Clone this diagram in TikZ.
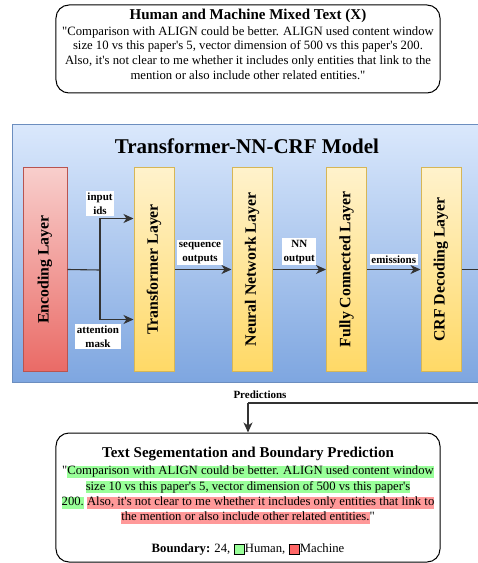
\documentclass[tikz,border=0pt]{standalone}
\usepackage{fontspec}
\setmainfont{Liberation Serif}
\usepackage{xcolor}
\usetikzlibrary{arrows.meta,calc}

\definecolor{modeltop}{HTML}{DAE8FC}
\definecolor{modelbottom}{HTML}{7EA6E0}
\definecolor{modelline}{HTML}{6C8EBF}
\definecolor{layertop}{HTML}{FFF2CC}
\definecolor{layerbottom}{HTML}{FFD966}
\definecolor{layerline}{HTML}{D6B656}
\definecolor{enctop}{HTML}{F8CECC}
\definecolor{encbottom}{HTML}{EA6B66}
\definecolor{encline}{HTML}{B85450}
\definecolor{humangreen}{HTML}{99FF99}
\definecolor{machinered}{HTML}{FF9999}
\definecolor{legendred}{HTML}{FF6666}
\definecolor{wireline}{HTML}{333333}

\newcommand{\bodyfont}{\fontsize{12.7bp}{14.6bp}\selectfont}
\newcommand{\headfont}{\fontsize{15bp}{17bp}\selectfont\bfseries}
\newcommand{\aq}{\textquotesingle}
\newcommand{\dq}{\textquotedbl}
\newcommand{\hlhuman}[1]{{\setlength{\fboxsep}{0pt}\colorbox{humangreen}{\rule[-3bp]{0pt}{11bp}#1}}}
\newcommand{\hlmachine}[1]{{\setlength{\fboxsep}{0pt}\colorbox{machinered}{\rule[-3bp]{0pt}{11bp}#1}}}
\newcommand{\legendsq}[1]{{\setlength{\fboxsep}{0pt}\setlength{\fboxrule}{0.9bp}\raisebox{-1.8bp}{\fcolorbox{black}{#1}{\rule{0pt}{9.5bp}\hspace{9.5bp}}}}}

\begin{document}
\begin{tikzpicture}[x=1bp,y=-1bp,
    textbox/.style={draw=black, line width=1bp, rounded corners=13bp, minimum width=384bp, align=center, inner sep=0pt, font=\bodyfont},
    model/.style={draw=modelline, line width=1bp, top color=modeltop, bottom color=modelbottom, minimum width=477bp, minimum height=257bp, inner sep=0pt},
    layer/.style={draw=layerline, line width=1bp, top color=layertop, bottom color=layerbottom, minimum width=40bp, minimum height=203bp, inner sep=0pt, font=\fontsize{15.8bp}{18bp}\selectfont\bfseries},
    enclayer/.style={layer, draw=encline, top color=enctop, bottom color=encbottom, minimum width=44bp},
    wire/.style={draw=wireline, line width=1.1bp},
    tip/.style={-{Stealth[length=10bp,width=9bp,inset=3bp]}},
    lbl/.style={fill=white, inner sep=1.5bp, align=center, font=\fontsize{11bp}{14bp}\selectfont\bfseries}
  ]
    \clip (0,0) rectangle (478,563);

    % Input text box
    \node[textbox, minimum height=88bp] (mixed) at (248,49) {{\headfont Human and Machine Mixed Text (X)}\\[1.5bp]
      \dq Comparison with ALIGN could be better. ALIGN used content window\\
      size 10 vs this paper\aq s 5, vector dimension of 500 vs this paper\aq s 200.\\
      Also, it\aq s not clear to me whether it includes only entities that link to the\\
      mention or also include other related entities.\dq\rule[-10bp]{0pt}{0pt}};

    % Model container
    \node[model] (model) at (251.5,253.5) {};
    \node[font=\fontsize{21bp}{24bp}\selectfont\bfseries] (title) at (247,146) {Transformer-NN-CRF Model};

    % Layers
    \node[enclayer] (enc) at (45,269.5) {\rotatebox{90}{Encoding Layer}};
    \node[layer] (trans) at (154,269.5) {\rotatebox{90}{Transformer Layer}};
    \node[layer] (nn) at (252,269.5) {\rotatebox{90}{Neural Network Layer}};
    \node[layer] (fc) at (346.5,269.5) {\rotatebox{90}{Fully Connected Layer}};
    \node[layer] (crf) at (441,269.5) {\rotatebox{90}{CRF Decoding Layer}};

    % Encoding to transformer
    \coordinate (split) at (100,270);
    \draw[wire] (enc.east) -- (split);
    \draw[wire,tip] (split) |- node[lbl, pos=0.5, above=2bp] {input\\ids} ($(trans.west)+(0,-51)$);
    \draw[wire,tip] (split) |- node[lbl, pos=0.5, below=4bp, xshift=-2bp] {attention\\mask} ($(trans.west)+(0,50)$);

    % Layer to layer
    \draw[wire,tip] (trans) -- node[lbl, above=4bp, xshift=-3bp] {sequence\\outputs} (nn);
    \draw[wire,tip] (nn) -- node[lbl, above=4bp] {NN\\output} (fc);
    \draw[wire,tip] (fc) -- node[lbl, above=4bp] {emissions} (crf);

    % Output box
    \node[textbox, minimum height=129bp, font=\fontsize{12.7bp}{15.3bp}\selectfont] (result) at (248,497.5) {{\headfont\rule{0pt}{17bp}Text Segementation and Boundary Prediction}\\[2.5bp]
      \dq\hlhuman{Comparison with ALIGN could be better. ALIGN used content window}\\
      \hlhuman{size 10 vs this paper\aq s 5, vector dimension of 500 vs this paper\aq s}\\
      \hlhuman{200.} \hlmachine{Also, it\aq s not clear to me whether it includes only entities that link to}\\
      \hlmachine{the mention or also include other related entities.}\dq\\[16bp]
      \textbf{Boundary:} 24, \legendsq{humangreen}Human, \legendsq{legendred}Machine};

    % Predictions back to output
    \coordinate (turn) at (248,403);
    \draw[wire] (crf.east) -- ($(crf.east)+(40,0)$) |- (turn)
      node[above=1bp, xshift=12bp, font=\fontsize{11bp}{13bp}\selectfont\bfseries] {Predictions};
    \draw[wire,tip] (turn) -- (result.north);
\end{tikzpicture}
\end{document}
